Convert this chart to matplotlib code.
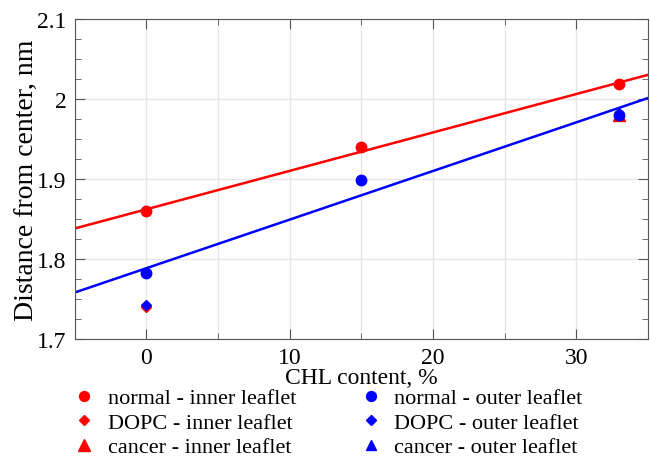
import numpy as np
import matplotlib.pyplot as plt
from matplotlib.ticker import MultipleLocator

plt.rcParams['font.family'] = ['Liberation Serif', 'DejaVu Serif']

# CHL content (%) and distance from center (nm)
chl_normal = [0, 15, 33]
normal_inner = [1.860, 1.940, 2.018]
normal_outer = [1.782, 1.898, 1.980]

chl_dopc = [0]
dopc_inner = [1.740]
dopc_outer = [1.742]

chl_cancer = [33]
cancer_inner = [1.980]
cancer_outer = [1.984]

# fitted lines, read at the axis edges
fit_x = [-5, 35]
fit_inner = [1.838, 2.030]
fit_outer = [1.758, 2.001]

fig = plt.figure(figsize=(6.5, 4.6), dpi=100)
ax = fig.add_axes([0.115, 0.261, 0.882, 0.696])

ax.plot(fit_x, fit_inner, color='red', lw=1.8, zorder=2)
ax.plot(fit_x, fit_outer, color='blue', lw=1.8, zorder=2)

h1, = ax.plot(chl_normal, normal_inner, 'o', color='red', ms=7.5, ls='none', zorder=3)
h2, = ax.plot(chl_dopc, dopc_inner, 'D', color='red', ms=5.5, ls='none', zorder=3)
h3, = ax.plot(chl_cancer, cancer_inner, '^', color='red', ms=9, ls='none', zorder=3)
h4, = ax.plot(chl_normal, normal_outer, 'o', color='blue', ms=7.5, ls='none', zorder=4)
h5, = ax.plot(chl_dopc, dopc_outer, 'D', color='blue', ms=5.5, ls='none', zorder=4)
h6, = ax.plot(chl_cancer, cancer_outer, '^', color='blue', ms=7.5, ls='none', zorder=4)

ax.set_xlim(-5, 35)
ax.set_ylim(1.7, 2.1)
ax.xaxis.set_major_locator(MultipleLocator(10))
ax.xaxis.set_minor_locator(MultipleLocator(5))
ax.yaxis.set_major_locator(MultipleLocator(0.1))
ax.yaxis.set_minor_locator(MultipleLocator(0.025))
ax.set_yticks([1.7, 1.8, 1.9, 2.0, 2.1])
ax.set_yticklabels(['1.7', '1.8', '1.9', '2', '2.1'])

ax.grid(True, which='major', color='#e6e6e6', lw=1)
ax.grid(True, which='minor', axis='x', color='#e6e6e6', lw=1)
ax.set_axisbelow(True)

for s in ax.spines.values():
    s.set_color('#555555')
ax.tick_params(which='both', direction='in', top=True, right=True, color='#555555',
               labelsize=17, pad=6)
ax.tick_params(which='major', length=7)
ax.tick_params(which='minor', length=4)

ax.set_xlabel('CHL content, %', fontsize=17, labelpad=-1)
ax.set_ylabel('Distance from center, nm', fontsize=20, labelpad=-2)

fig.legend([h1, h2, h3, h4, h5, h6],
           ['normal - inner leaflet', 'DOPC - inner leaflet', 'cancer - inner leaflet',
            'normal - outer leaflet', 'DOPC - outer leaflet', 'cancer - outer leaflet'],
           ncol=2, loc='lower center', bbox_to_anchor=(0.50, -0.04), frameon=False,
           fontsize=16, handletextpad=0.3, columnspacing=2.6, labelspacing=0.18,
           handlelength=1.5, markerscale=0.95)

fig.savefig('out.png', dpi=100)
